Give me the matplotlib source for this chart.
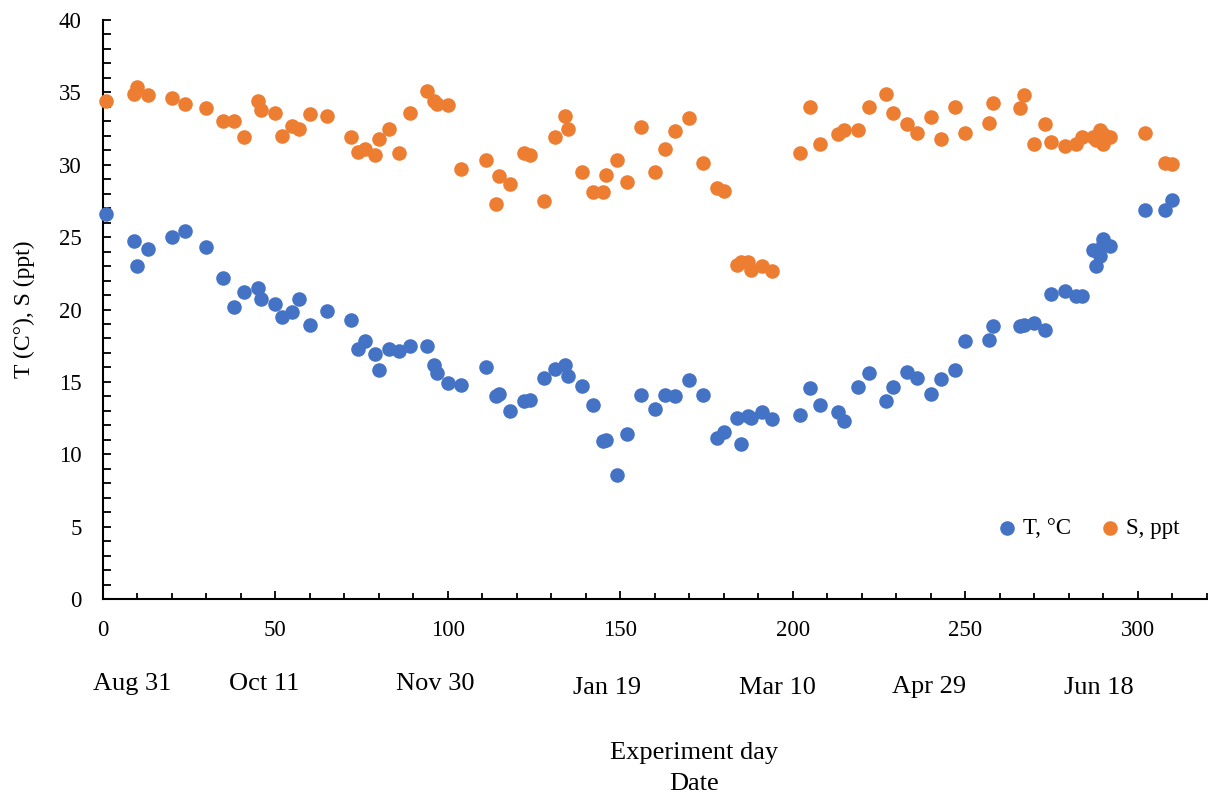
import matplotlib.pyplot as plt
from matplotlib.ticker import MultipleLocator
from matplotlib.transforms import blended_transform_factory

# experiment day of each sample
day = [1, 9, 10, 13, 20, 24, 30, 35, 38, 41, 45, 46, 50, 52, 55, 57, 60, 65,
       72, 74, 76, 79, 80, 83, 86, 89, 94, 96, 97, 100, 104, 111, 114, 115,
       118, 122, 124, 128, 131, 134, 135, 139, 142, 145, 146, 149, 152, 156,
       160, 163, 166, 170, 174, 178, 180, 184, 185, 187, 188, 191, 194, 202,
       205, 208, 213, 215, 219, 222, 227, 229, 233, 236, 240, 243, 247, 250,
       257, 258, 266, 267, 270, 273, 275, 279, 282, 284, 287, 288, 289, 290,
       290, 292, 302, 308, 310]

# temperature, deg C
temp = [26.6, 24.75, 23.0, 24.2, 25.0, 25.4, 24.35, 22.2, 20.2, 21.2, 21.5,
        20.7, 20.4, 19.5, 19.85, 20.7, 18.9, 19.9, 19.3, 17.3, 17.8, 16.9,
        15.8, 17.3, 17.1, 17.5, 17.5, 16.2, 15.6, 14.9, 14.8, 16.0, 14.0,
        14.15, 13.0, 13.7, 13.75, 15.3, 15.9, 16.2, 15.4, 14.7, 13.4, 10.9,
        10.95, 8.55, 11.4, 14.1, 13.15, 14.1, 14.0, 15.1, 14.1, 11.1, 11.55,
        12.5, 10.7, 12.65, 12.5, 12.9, 12.45, 12.7, 14.6, 13.4, 12.9, 12.3,
        14.65, 15.6, 13.65, 14.65, 15.65, 15.3, 14.15, 15.2, 15.8, 17.85,
        17.9, 18.85, 18.85, 18.95, 19.1, 18.55, 21.1, 21.3, 20.9, 20.9, 24.1,
        23.0, 23.7, 24.9, 24.5, 24.4, 26.9, 26.9, 27.55]

# salinity, ppt
sal = [34.4, 34.9, 35.4, 34.8, 34.6, 34.2, 33.9, 33.0, 33.0, 31.9, 34.4,
       33.8, 33.6, 32.0, 32.7, 32.5, 33.5, 33.4, 31.9, 30.9, 31.1, 30.7,
       31.8, 32.5, 30.8, 33.6, 35.1, 34.4, 34.2, 34.1, 29.7, 30.3, 27.3,
       29.2, 28.7, 30.8, 30.7, 27.5, 31.9, 33.4, 32.5, 29.5, 28.1, 28.1,
       29.3, 30.3, 28.8, 32.6, 29.5, 31.1, 32.3, 33.2, 30.1, 28.4, 28.2,
       23.1, 23.3, 23.3, 22.75, 23.0, 22.65, 30.8, 34.0, 31.4, 32.1, 32.4,
       32.4, 34.0, 34.9, 33.6, 32.8, 32.2, 33.3, 31.8, 34.0, 32.2, 32.9,
       34.3, 33.9, 34.8, 31.4, 32.8, 31.6, 31.3, 31.4, 31.9, 31.9, 31.7,
       32.4, 31.4, 32.1, 31.9, 32.2, 30.1, 30.05]

date_labels = ['Aug 31', 'Oct 11', 'Nov 30', 'Jan 19', 'Mar 10', 'Apr 29', 'Jun 18']
date_pos = [8.6, 46.8, 96.4, 146.3, 195.5, 239.4, 288.7]
date_y = [-0.147, -0.147, -0.147, -0.154, -0.154, -0.152, -0.154]

plt.rcParams['font.family'] = ['Liberation Serif', 'DejaVu Serif']

fig = plt.figure(figsize=(12.08, 7.94), dpi=100)
ax = fig.add_axes([0.085, 0.2456, 0.9139, 0.7292])

ax.scatter(day, temp, s=110, color='#4472C4', linewidths=0, label='T, °C',
           zorder=3, clip_on=False)
ax.scatter(day, sal, s=110, color='#ED7D31', linewidths=0, label='S, ppt',
           zorder=3, clip_on=False)

ax.set_xlim(0, 320)
ax.set_ylim(0, 40)
ax.xaxis.set_major_locator(MultipleLocator(50))
ax.xaxis.set_minor_locator(MultipleLocator(10))
ax.yaxis.set_major_locator(MultipleLocator(5))
ax.yaxis.set_minor_locator(MultipleLocator(1))
ax.tick_params(which='both', direction='in', width=1.3, labelsize=16.5)
ax.tick_params(which='major', length=6)
ax.tick_params(which='minor', length=4)
ax.tick_params(axis='x', which='major', pad=15)
ax.tick_params(axis='y', which='major', pad=15)
ax.tick_params(axis='y', which='minor', length=6)

for side in ['top', 'right']:
    ax.spines[side].set_visible(False)
for side in ['left', 'bottom']:
    ax.spines[side].set_linewidth(1.5)

ax.set_ylabel('T (C°), S (ppt)', fontsize=17, va='center')
ax.yaxis.set_label_coords(-0.071, 0.5)

trans = blended_transform_factory(ax.transData, ax.transAxes)
for lab, xp, yp in zip(date_labels, date_pos, date_y):
    ax.text(xp, yp, lab, transform=trans, ha='center', va='center', fontsize=19)

fig.text(694 / 1208, 1 - 753 / 794, 'Experiment day', ha='center', va='center', fontsize=19)
fig.text(694 / 1208, 1 - 784 / 794, 'Date', ha='center', va='center', fontsize=19)

ax.legend(loc='center', bbox_to_anchor=(0.893, 0.1226), ncol=2, frameon=False,
          fontsize=16.5, handlelength=0.8, handletextpad=0.3, columnspacing=1.3,
          markerscale=1.0)

fig.savefig('out.png', dpi=100)
